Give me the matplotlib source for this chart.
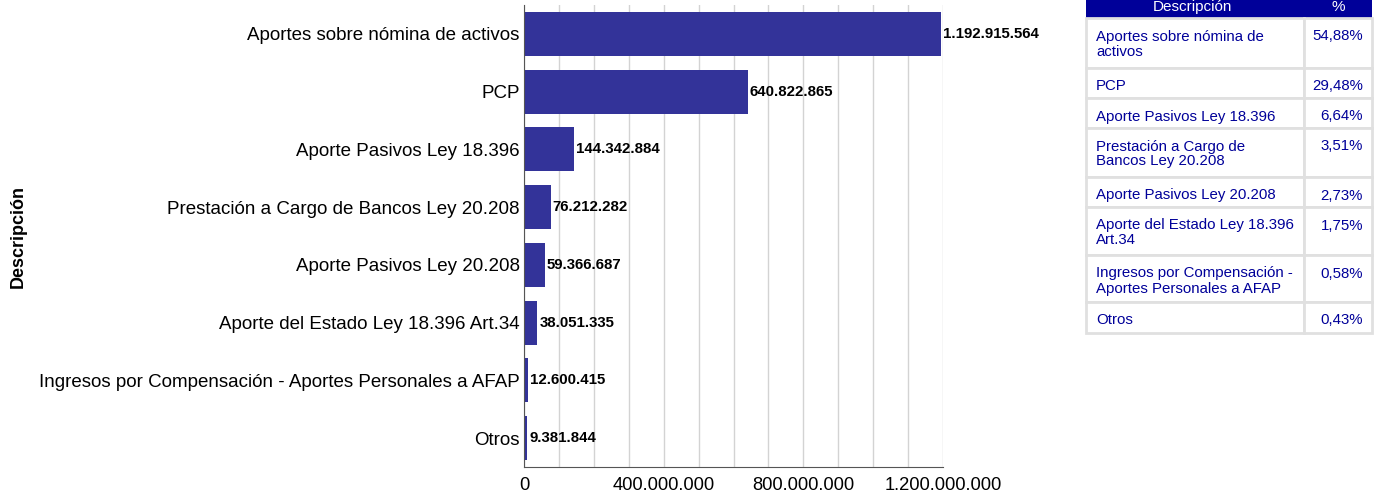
import matplotlib
matplotlib.use("Agg")
import matplotlib.pyplot as plt
from matplotlib.patches import Rectangle
from matplotlib.ticker import FuncFormatter, MultipleLocator

plt.rcParams['font.family'] = ['Liberation Sans', 'DejaVu Sans']

categories = [
    "Aportes sobre nómina de activos",
    "PCP",
    "Aporte Pasivos Ley 18.396",
    "Prestación a Cargo de Bancos Ley 20.208",
    "Aporte Pasivos Ley 20.208",
    "Aporte del Estado Ley 18.396 Art.34",
    "Ingresos por Compensación - Aportes Personales a AFAP",
    "Otros",
]
values = [1192915564, 640822865, 144342884, 76212282, 59366687, 38051335, 12600415, 9381844]

table_desc = [
    "Aportes sobre nómina de\nactivos",
    "PCP",
    "Aporte Pasivos Ley 18.396",
    "Prestación a Cargo de\nBancos Ley 20.208",
    "Aporte Pasivos Ley 20.208",
    "Aporte del Estado Ley 18.396\nArt.34",
    "Ingresos por Compensación -\nAportes Personales a AFAP",
    "Otros",
]
table_pct = ["54,88%", "29,48%", "6,64%", "3,51%", "2,73%", "1,75%", "0,58%", "0,43%"]

W, H = 1376, 497
fig = plt.figure(figsize=(W / 100, H / 100), dpi=100)

def fmt(v):
    return f"{int(round(v)):,}".replace(",", ".")

# main axes
l, r, t, b = 524, 943, 5, 467
ax = fig.add_axes([l / W, 1 - b / H, (r - l) / W, (b - t) / H])
y = list(range(len(categories)))
ax.barh(y, values, height=0.76, color="#333399", zorder=2)
ax.set_ylim(len(categories) - 0.5, -0.5)
ax.set_xlim(0, 1.2e9)
ax.set_yticks(y)
ax.set_yticklabels(categories, fontsize=13.5)
ax.xaxis.set_major_locator(MultipleLocator(4e8))
ax.xaxis.set_minor_locator(MultipleLocator(1e8))
ax.xaxis.set_major_formatter(FuncFormatter(lambda v, p: fmt(v)))
ax.tick_params(axis='x', labelsize=13.2, length=0, pad=7)
ax.tick_params(axis='x', which='minor', length=0)
ax.tick_params(axis='y', length=0, pad=3)
ax.grid(axis='x', which='both', color="#d3d3d3", linewidth=1, zorder=0)
for s in ['top', 'right']:
    ax.spines[s].set_visible(False)
ax.spines['left'].set_color("#555555")
ax.spines['bottom'].set_color("#555555")
for yi, v in zip(y, values):
    ax.annotate(fmt(v), (v, yi), xytext=(1.5, 0), textcoords='offset points',
                va='center', ha='left', fontsize=10.8, fontweight='bold', color='black', zorder=3)
ax.set_ylabel("Descripción", fontsize=13, fontweight='bold')
ax.yaxis.set_label_coords((27 - l) / (r - l), 0.5)

# table in pixel coordinates
tax = fig.add_axes([0, 0, 1, 1])
tax.set_xlim(0, W)
tax.set_ylim(H, 0)
tax.axis('off')
x0, xs, x1 = 1086, 1304, 1372
bounds = [-4, 18, 68, 98, 128, 177, 207, 255, 302, 333]
blue = "#000099"
grid = "#e0e0e0"
pitch = 15
tax.add_patch(Rectangle((x0, bounds[0]), x1 - x0, bounds[1] - bounds[0], facecolor=blue, edgecolor='none'))
tax.text((x0 + xs) / 2 - 3, 11, "Descripción", ha='center', va='baseline', color='white', fontsize=11)
tax.text((xs + x1) / 2, 11, "%", ha='center', va='baseline', color='white', fontsize=11)
for i, (d, p) in enumerate(zip(table_desc, table_pct)):
    top, bot = bounds[i + 1], bounds[i + 2]
    tax.add_patch(Rectangle((x0, top), xs - x0, bot - top, facecolor='white', edgecolor=grid, linewidth=2))
    tax.add_patch(Rectangle((xs, top), x1 - xs, bot - top, facecolor='white', edgecolor=grid, linewidth=2))
    for k, line in enumerate(d.split("\n")):
        tax.text(x0 + 10, top + 22.5 + k * pitch, line, ha='left', va='baseline', color=blue, fontsize=10.8)
    tax.text(x1 - 9, top + 22.5, p, ha='right', va='baseline', color=blue, fontsize=10.8)

fig.savefig("out.png", dpi=100)
